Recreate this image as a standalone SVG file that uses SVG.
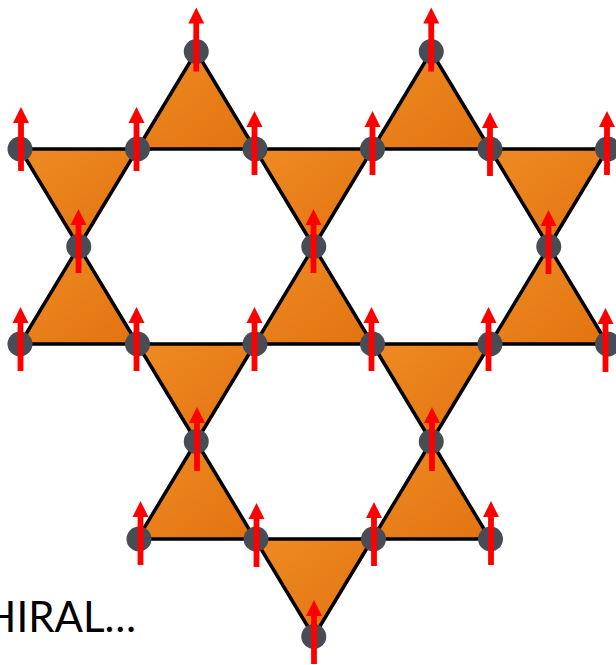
<svg xmlns="http://www.w3.org/2000/svg" xmlns:xlink="http://www.w3.org/1999/xlink" width="616" height="665" viewBox="0 0 616 665">
<style>
.tri{fill:url(#og);stroke:#000;stroke-width:3.5;stroke-linejoin:round}
.dot{fill:#474c55}
.spin{fill:#ff0000}
.lbl{font-family:Lato,"Liberation Sans",sans-serif;font-size:42px;fill:#000}
</style>
<defs>
<linearGradient id="og" x1="0" y1="0" x2="1" y2="1">
<stop offset="0" stop-color="#ef8b23"/>
<stop offset="1" stop-color="#e27310"/>
</linearGradient>
<path id="arrow" d="M-2.9,27 L-2.9,-21 L-8,-21 L0,-37 L8,-21 L2.9,-21 L2.9,27 Z"/>
</defs>
<rect width="616" height="665" fill="#fff"/>
<g id="bonds">
<g id="t-up-1"><polygon class="tri" points="196.25,51.5 137.5,149 255,149"/></g>
<g id="t-up-2"><polygon class="tri" points="431.25,51.5 372.5,149 490,149"/></g>
<g id="t-dn-1"><polygon class="tri" points="20,149 137.5,149 78.75,246.5"/></g>
<g id="t-dn-2"><polygon class="tri" points="255,149 372.5,149 313.75,246.5"/></g>
<g id="t-dn-3"><polygon class="tri" points="490,149 607.5,149 548.75,246.5"/></g>
<g id="t-up-3"><polygon class="tri" points="78.75,246.5 20,344 137.5,344"/></g>
<g id="t-up-4"><polygon class="tri" points="313.75,246.5 255,344 372.5,344"/></g>
<g id="t-up-5"><polygon class="tri" points="548.75,246.5 490,344 607.5,344"/></g>
<g id="t-dn-4"><polygon class="tri" points="137.5,344 255,344 196.25,441.5"/></g>
<g id="t-dn-5"><polygon class="tri" points="372.5,344 490,344 431.25,441.5"/></g>
<g id="t-up-6"><polygon class="tri" points="196.25,441.5 137.5,539 255,539"/></g>
<g id="t-up-7"><polygon class="tri" points="431.25,441.5 372.5,539 490,539"/></g>
<g id="t-dn-6"><polygon class="tri" points="255,539 372.5,539 313.75,636.5"/></g>
</g>
<g id="s1"><circle class="dot" cx="196.25" cy="51.5" r="12.5"/><use class="spin" xlink:href="#arrow" x="196.25" y="44.5"/></g>
<g id="s2"><circle class="dot" cx="431.25" cy="51.5" r="12.5"/><use class="spin" xlink:href="#arrow" x="431.25" y="44.5"/></g>
<g id="s3"><circle class="dot" cx="20" cy="149" r="12.5"/><use class="spin" xlink:href="#arrow" x="21" y="144"/></g>
<g id="s4"><circle class="dot" cx="137.5" cy="149" r="12.5"/><use class="spin" xlink:href="#arrow" x="136.5" y="144"/></g>
<g id="s5"><circle class="dot" cx="255" cy="149" r="12.5"/><use class="spin" xlink:href="#arrow" x="254.5" y="148"/></g>
<g id="s6"><circle class="dot" cx="372.5" cy="149" r="12.5"/><use class="spin" xlink:href="#arrow" x="372.5" y="148"/></g>
<g id="s7"><circle class="dot" cx="490" cy="149" r="12.5"/><use class="spin" xlink:href="#arrow" x="490" y="149"/></g>
<g id="s8"><circle class="dot" cx="607.5" cy="149" r="12.5"/><use class="spin" xlink:href="#arrow" x="607" y="148"/></g>
<g id="s9"><circle class="dot" cx="78.75" cy="246.5" r="12.5"/><use class="spin" xlink:href="#arrow" x="78.5" y="246"/></g>
<g id="s10"><circle class="dot" cx="313.75" cy="246.5" r="12.5"/><use class="spin" xlink:href="#arrow" x="313.5" y="246"/></g>
<g id="s11"><circle class="dot" cx="548.75" cy="246.5" r="12.5"/><use class="spin" xlink:href="#arrow" x="548.5" y="247"/></g>
<g id="s12"><circle class="dot" cx="20" cy="344" r="12.5"/><use class="spin" xlink:href="#arrow" x="20.5" y="344"/></g>
<g id="s13"><circle class="dot" cx="137.5" cy="344" r="12.5"/><use class="spin" xlink:href="#arrow" x="136.5" y="344"/></g>
<g id="s14"><circle class="dot" cx="255" cy="344" r="12.5"/><use class="spin" xlink:href="#arrow" x="254.5" y="344"/></g>
<g id="s15"><circle class="dot" cx="372.5" cy="344" r="12.5"/><use class="spin" xlink:href="#arrow" x="371.5" y="344"/></g>
<g id="s16"><circle class="dot" cx="490" cy="344" r="12.5"/><use class="spin" xlink:href="#arrow" x="488.5" y="344"/></g>
<g id="s17"><circle class="dot" cx="607.5" cy="344" r="12.5"/><use class="spin" xlink:href="#arrow" x="605.5" y="345"/></g>
<g id="s18"><circle class="dot" cx="196.25" cy="441.5" r="12.5"/><use class="spin" xlink:href="#arrow" x="197" y="444"/></g>
<g id="s19"><circle class="dot" cx="431.25" cy="441.5" r="12.5"/><use class="spin" xlink:href="#arrow" x="432" y="444"/></g>
<g id="s20"><circle class="dot" cx="139" cy="539" r="12.5"/><use class="spin" xlink:href="#arrow" x="140.5" y="538"/></g>
<g id="s21"><circle class="dot" cx="256" cy="539" r="12.5"/><use class="spin" xlink:href="#arrow" x="256.5" y="540"/></g>
<g id="s22"><circle class="dot" cx="373.5" cy="539" r="12.5"/><use class="spin" xlink:href="#arrow" x="374" y="539"/></g>
<g id="s23"><circle class="dot" cx="490.5" cy="539" r="12.5"/><use class="spin" xlink:href="#arrow" x="491" y="538"/></g>
<g id="s24"><circle class="dot" cx="313.75" cy="636.5" r="12.5"/><use class="spin" xlink:href="#arrow" x="314" y="637"/></g>
<text class="lbl" x="136" y="631.5" text-anchor="end">HIRAL…</text>
</svg>
